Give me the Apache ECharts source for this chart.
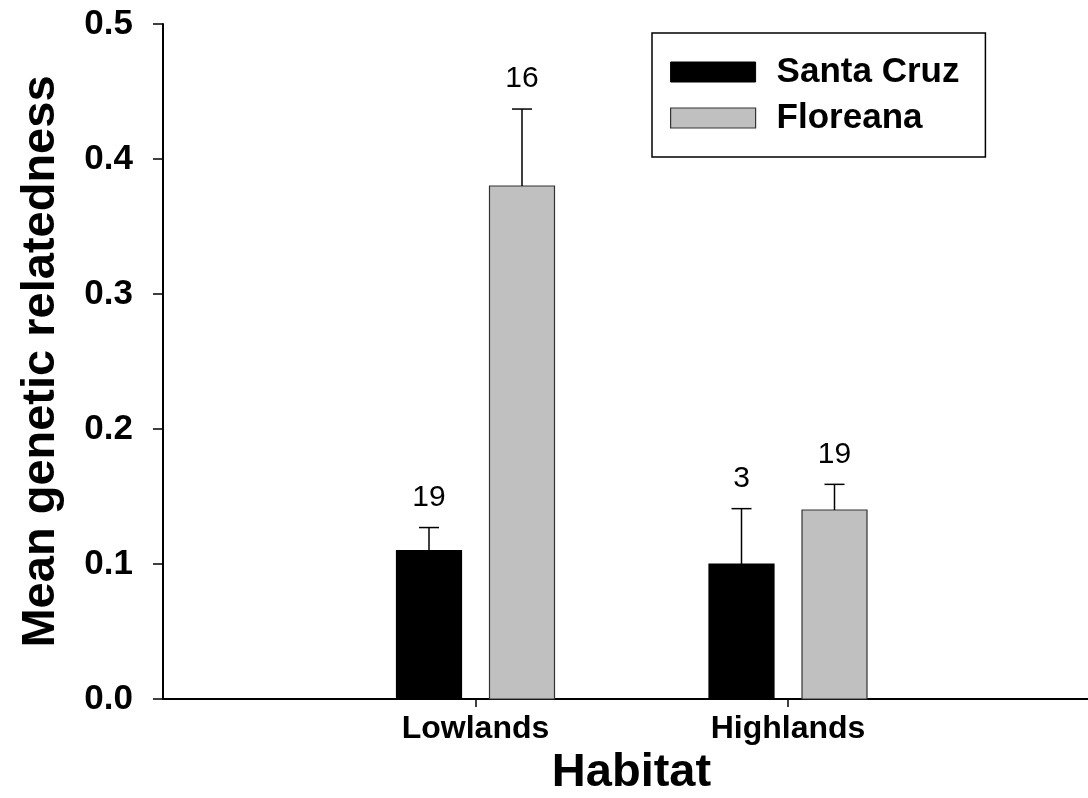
<!DOCTYPE html>
<html>
<head>
<meta charset="utf-8">
<script src="https://cdn.jsdelivr.net/npm/echarts@6/dist/echarts.min.js"></script>
<style>
html,body{margin:0;padding:0;background:#fff;}
#chart{width:1088px;height:798px;}
</style>
</head>
<body>
<div id="chart"></div>
<script>
// ---- data ----
const categories = ['Lowlands', 'Highlands'];
const seriesNames = ['Santa Cruz', 'Floreana'];
const santaCruzMean = [0.11, 0.10];
const santaCruzErr = [0.017, 0.041];
const santaCruzN = [19, 3];
const floreanaMean = [0.38, 0.14];
const floreanaErr = [0.057, 0.019];
const floreanaN = [16, 19];
const yTicks = [0.0, 0.1, 0.2, 0.3, 0.4, 0.5];

const FONT = '"Liberation Sans", Arial, sans-serif';

function rows(mean, err, n) {
  return categories.map((c, i) => [i + 1, mean[i], err[i], n[i]]);
}

function makeRender(offset, fill, stroke) {
  return function (params, api) {
    const x = api.value(0), v = api.value(1), e = api.value(2), n = api.value(3);
    const base = api.coord([x, 0]);
    const top = api.coord([x, v]);
    const errTop = api.coord([x, v + e]);
    const cx = base[0] + offset;
    const hw = 32.5, cap = 10;
    return {
      type: 'group',
      children: [
        { type: 'rect', shape: { x: cx - hw, y: top[1], width: 2 * hw, height: base[1] - top[1] },
          style: { fill: fill, stroke: stroke, lineWidth: 1.2 } },
        { type: 'line', shape: { x1: cx, y1: top[1], x2: cx, y2: errTop[1] },
          style: { stroke: '#000', lineWidth: 1.5 } },
        { type: 'line', shape: { x1: cx - cap, y1: errTop[1], x2: cx + cap, y2: errTop[1] },
          style: { stroke: '#000', lineWidth: 1.5 } },
        { type: 'text', style: { x: cx, y: errTop[1] - 15, text: String(n), fill: '#000',
          font: '30px ' + FONT, align: 'center', verticalAlign: 'bottom' } }
      ]
    };
  };
}

const chart = echarts.init(document.getElementById('chart'), null, { renderer: 'canvas' });
chart.setOption({
  backgroundColor: '#fff',
  animation: false,
  grid: { left: 163, right: 0, top: 24, bottom: 99, containLabel: false, outerBoundsMode: 'none' },
  legend: {
    left: 652, top: 33, orient: 'vertical',
    padding: [19, 26, 19, 18],
    borderColor: '#000', borderWidth: 1.5,
    itemWidth: 85, itemHeight: 20, itemGap: 6,
    icon: 'rect',
    textStyle: { fontFamily: FONT, fontWeight: 'bold', fontSize: 35, color: '#000', lineHeight: 40, padding: [0, 0, 0, 16] },
    data: [
      { name: seriesNames[0], itemStyle: { color: '#000', borderColor: '#000', borderWidth: 1 } },
      { name: seriesNames[1], itemStyle: { color: '#c0c0c0', borderColor: '#333', borderWidth: 1.2 } }
    ]
  },
  xAxis: {
    type: 'value', min: 0, max: 2.96, interval: 1,
    name: 'Habitat', nameLocation: 'middle', nameGap: 48,
    nameTextStyle: { fontFamily: FONT, fontWeight: 'bold', fontSize: 47, color: '#000', padding: [0, 0, 0, 12] },
    axisLine: { show: true, onZero: false, lineStyle: { color: '#000', width: 2 } },
    axisTick: { show: true, inside: false, length: 8, lineStyle: { color: '#000', width: 1.5 }, customValues: [1, 2] },
    axisLabel: { show: true, margin: 14, fontFamily: FONT, fontWeight: 'bold', fontSize: 32, color: '#000',
      customValues: [1, 2],
      formatter: function (v) { const i = Math.round(v) - 1; return (i >= 0 && i < categories.length && Math.abs(v - Math.round(v)) < 1e-6) ? categories[i] : ''; } },
    splitLine: { show: false }
  },
  yAxis: {
    type: 'value', min: yTicks[0], max: yTicks[yTicks.length - 1], interval: 0.1,
    name: 'Mean genetic relatedness', nameLocation: 'middle', nameGap: 98, nameRotate: 90,
    nameTextStyle: { fontFamily: FONT, fontWeight: 'bold', fontSize: 47, color: '#000' },
    axisLine: { show: true, lineStyle: { color: '#000', width: 2 } },
    axisTick: { show: true, inside: false, length: 10, lineStyle: { color: '#000', width: 1.5 } },
    axisLabel: { margin: 30, fontFamily: FONT, fontWeight: 'bold', fontSize: 35, color: '#000',
      formatter: function (v) { return v.toFixed(1); } },
    splitLine: { show: false }
  },
  series: [
    { name: seriesNames[0], type: 'custom', itemStyle: { color: '#000', borderColor: '#000' },
      renderItem: makeRender(-46.5, '#000', '#000'),
      encode: { x: 0, y: 1 }, data: rows(santaCruzMean, santaCruzErr, santaCruzN) },
    { name: seriesNames[1], type: 'custom', itemStyle: { color: '#c0c0c0', borderColor: '#333' },
      renderItem: makeRender(46.5, '#c0c0c0', '#333'),
      encode: { x: 0, y: 1 }, data: rows(floreanaMean, floreanaErr, floreanaN) }
  ]
});
</script>
</body>
</html>
